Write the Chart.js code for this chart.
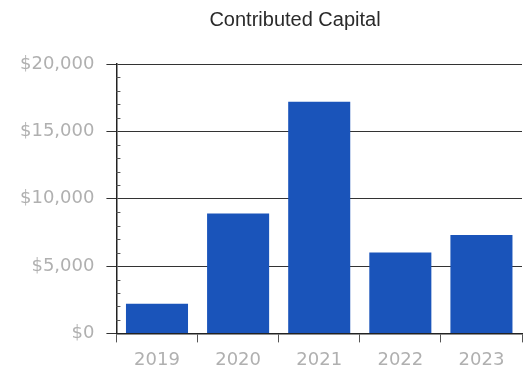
<!DOCTYPE html>
<html>
<head>
<meta charset="utf-8">
<script src="https://cdn.jsdelivr.net/npm/chart.js@4/dist/chart.umd.min.js"></script>
<style>
  body { margin: 0; background: #fff; }
  #wrap { width: 524px; height: 375px; }
</style>
</head>
<body>
<div id="wrap"><canvas id="chart"></canvas></div>
<script>
// Data
const years = ["2019", "2020", "2021", "2022", "2023"];
const capital = [2200, 8900, 17200, 6000, 7300];
const yTicks = [0, 5000, 10000, 15000, 20000];
const chartTitle = "Contributed Capital";

// Title drawn above the plot, a bit right of the canvas centre
const titlePlugin = {
    id: "titleText",
    afterDraw(chart) {
        const ctx = chart.ctx;
        ctx.save();
        ctx.font = "20px 'Liberation Sans', Arial, sans-serif";
        ctx.fillStyle = "#2a2a2a";
        ctx.textAlign = "center";
        ctx.textBaseline = "middle";
        ctx.fillText(chartTitle, chart.width * 0.563, 20);
        ctx.restore();
    }
};

// Small minor ticks on the inside of the y axis
const minorTicks = {
    id: "minorTicks",
    afterDatasetsDraw(chart) {
        const y = chart.scales.y;
        const left = chart.chartArea.left;
        const ctx = chart.ctx;
        ctx.save();
        ctx.strokeStyle = "#555";
        ctx.lineWidth = 1;
        for (let v = 1000; v < 20000; v += 1000) {
            if (v % 5000 === 0) continue;
            const py = Math.round(y.getPixelForValue(v)) + 0.5;
            ctx.beginPath();
            ctx.moveTo(left, py);
            ctx.lineTo(left + 4, py);
            ctx.stroke();
        }
        ctx.restore();
    }
};

const ctx = document.getElementById("chart").getContext("2d");
new Chart(ctx, {
    type: "bar",
    data: {
        labels: years,
        datasets: [{
            label: chartTitle,
            data: capital,
            backgroundColor: "#1a54ba",
            borderWidth: 0,
            barPercentage: 0.85,
            categoryPercentage: 0.9
        }]
    },
    options: {
        responsive: true,
        maintainAspectRatio: false,
        animation: false,
        layout: { padding: { top: 64, left: 8, right: 2, bottom: -3 } },
        plugins: {
            legend: { display: false },
            title: { display: false },
            tooltip: { enabled: false }
        },
        scales: {
            x: {
                offset: true,
                grid: {
                    offset: true,
                    drawOnChartArea: false,
                    drawTicks: true,
                    tickLength: 9,
                    color: "#555"
                },
                border: { color: "#222", width: 1.5 },
                ticks: {
                    color: "#b0b0b0",
                    font: { family: "'DejaVu Sans'", size: 18 },
                    padding: 7
                }
            },
            y: {
                min: 0,
                max: 20000,
                afterBuildTicks(scale) {
                    scale.ticks = yTicks.map(v => ({ value: v }));
                },
                grid: {
                    color: "#333",
                    lineWidth: 1,
                    tickLength: 10
                },
                border: { color: "#222", width: 1.5 },
                ticks: {
                    color: "#b0b0b0",
                    font: { family: "'DejaVu Sans'", size: 18 },
                    padding: 12,
                    callback: v => "$" + Number(v).toLocaleString("en-US")
                }
            }
        }
    },
    plugins: [titlePlugin, minorTicks]
});
</script>
</body>
</html>
